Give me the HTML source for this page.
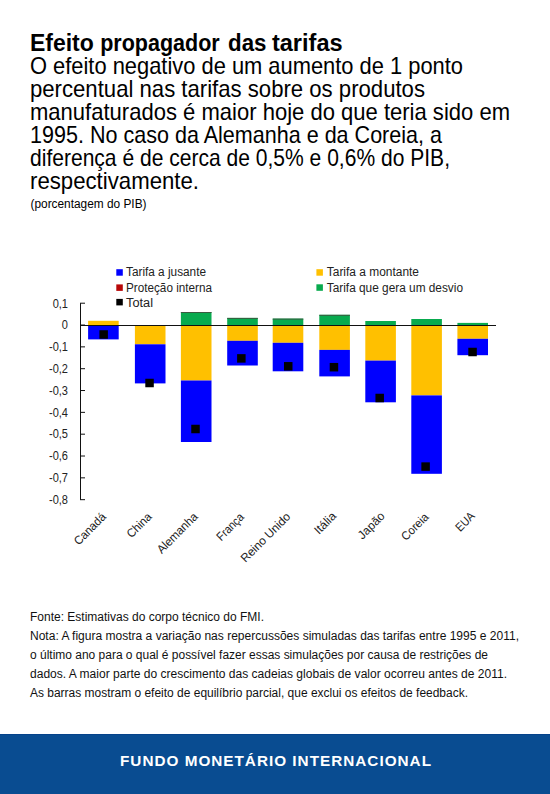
<!DOCTYPE html><html><head><meta charset="utf-8"><style>html,body{margin:0;padding:0;background:#fff;width:550px;height:794px;overflow:hidden}svg{display:block}text{font-family:"Liberation Sans", sans-serif}</style></head><body>
<svg width="550" height="794" viewBox="0 0 550 794">
<rect x="0" y="0" width="550" height="794" fill="#fff"/>
<rect x="88.10" y="320.80" width="30.60" height="4.20" fill="#ffc000"/>
<rect x="88.10" y="326.00" width="30.60" height="13.40" fill="#0000ff"/>
<rect x="99.40" y="330.25" width="8.50" height="8.50" fill="#000"/>
<rect x="134.90" y="326.00" width="30.60" height="18.30" fill="#ffc000"/>
<rect x="134.90" y="344.30" width="30.60" height="39.10" fill="#0000ff"/>
<rect x="145.30" y="378.75" width="8.50" height="8.50" fill="#000"/>
<rect x="180.90" y="312.00" width="30.60" height="13.00" fill="#08aa4e"/>
<rect x="180.90" y="312.00" width="30.60" height="1.00" fill="#3a5a40"/>
<rect x="180.90" y="326.00" width="30.60" height="54.50" fill="#ffc000"/>
<rect x="180.90" y="380.50" width="30.60" height="61.50" fill="#0000ff"/>
<rect x="191.25" y="424.75" width="8.50" height="8.50" fill="#000"/>
<rect x="227.20" y="317.90" width="30.60" height="7.10" fill="#08aa4e"/>
<rect x="227.20" y="317.90" width="30.60" height="1.00" fill="#3a5a40"/>
<rect x="227.20" y="326.00" width="30.60" height="14.80" fill="#ffc000"/>
<rect x="227.20" y="340.80" width="30.60" height="24.70" fill="#0000ff"/>
<rect x="237.10" y="354.15" width="8.50" height="8.50" fill="#000"/>
<rect x="272.70" y="318.60" width="30.60" height="6.40" fill="#08aa4e"/>
<rect x="272.70" y="318.60" width="30.60" height="1.00" fill="#3a5a40"/>
<rect x="272.70" y="326.00" width="30.60" height="16.80" fill="#ffc000"/>
<rect x="272.70" y="342.80" width="30.60" height="28.50" fill="#0000ff"/>
<rect x="284.00" y="362.05" width="8.50" height="8.50" fill="#000"/>
<rect x="319.30" y="314.80" width="30.60" height="10.20" fill="#08aa4e"/>
<rect x="319.30" y="314.80" width="30.60" height="1.00" fill="#3a5a40"/>
<rect x="319.30" y="326.00" width="30.60" height="23.90" fill="#ffc000"/>
<rect x="319.30" y="349.90" width="30.60" height="26.50" fill="#0000ff"/>
<rect x="329.70" y="362.95" width="8.50" height="8.50" fill="#000"/>
<rect x="365.30" y="321.00" width="30.60" height="4.00" fill="#08aa4e"/>
<rect x="365.30" y="326.00" width="30.60" height="34.60" fill="#ffc000"/>
<rect x="365.30" y="360.60" width="30.60" height="41.70" fill="#0000ff"/>
<rect x="375.45" y="393.75" width="8.50" height="8.50" fill="#000"/>
<rect x="411.30" y="319.00" width="30.60" height="6.00" fill="#08aa4e"/>
<rect x="411.30" y="326.00" width="30.60" height="69.40" fill="#ffc000"/>
<rect x="411.30" y="395.40" width="30.60" height="78.40" fill="#0000ff"/>
<rect x="421.35" y="462.35" width="8.50" height="8.50" fill="#000"/>
<rect x="457.40" y="322.90" width="30.60" height="2.10" fill="#08aa4e"/>
<rect x="457.40" y="326.00" width="30.60" height="12.80" fill="#ffc000"/>
<rect x="457.40" y="338.80" width="30.60" height="16.40" fill="#0000ff"/>
<rect x="468.30" y="347.75" width="8.50" height="8.50" fill="#000"/>
<rect x="80.00" y="325.00" width="416.00" height="1.00" fill="#111"/>
<rect x="80.00" y="303.20" width="1.00" height="196.60" fill="#111"/>
<rect x="80.00" y="302.70" width="5.00" height="1.00" fill="#111"/>
<rect x="80.00" y="324.53" width="5.00" height="1.00" fill="#111"/>
<rect x="80.00" y="346.36" width="5.00" height="1.00" fill="#111"/>
<rect x="80.00" y="368.19" width="5.00" height="1.00" fill="#111"/>
<rect x="80.00" y="390.02" width="5.00" height="1.00" fill="#111"/>
<rect x="80.00" y="411.85" width="5.00" height="1.00" fill="#111"/>
<rect x="80.00" y="433.68" width="5.00" height="1.00" fill="#111"/>
<rect x="80.00" y="455.51" width="5.00" height="1.00" fill="#111"/>
<rect x="80.00" y="477.34" width="5.00" height="1.00" fill="#111"/>
<rect x="80.00" y="499.17" width="5.00" height="1.00" fill="#111"/>
<rect x="116.30" y="269.20" width="6.50" height="6.50" fill="#0000ff"/>
<rect x="116.30" y="284.40" width="6.50" height="6.50" fill="#b80808"/>
<rect x="116.30" y="298.90" width="6.50" height="6.50" fill="#000"/>
<rect x="316.40" y="269.20" width="6.50" height="6.50" fill="#ffc000"/>
<rect x="316.40" y="284.30" width="6.50" height="6.50" fill="#08aa4e"/>
<text x="29.9" y="50.7" font-size="23.3" fill="#000" font-weight="700" textLength="63.9" lengthAdjust="spacingAndGlyphs">Efeito</text>
<text x="100.2" y="50.7" font-size="23.3" fill="#000" font-weight="700" textLength="119.5" lengthAdjust="spacingAndGlyphs">propagador</text>
<text x="228.1" y="50.7" font-size="23.3" fill="#000" font-weight="700" textLength="38.4" lengthAdjust="spacingAndGlyphs">das</text>
<text x="271.9" y="50.7" font-size="23.3" fill="#000" font-weight="700" textLength="70.7" lengthAdjust="spacingAndGlyphs">tarifas</text>
<text x="30" y="73.9" font-size="23.6" fill="#000" textLength="433" lengthAdjust="spacingAndGlyphs">O efeito negativo de um aumento de 1 ponto</text>
<text x="30" y="96.9" font-size="23.6" fill="#000" textLength="395" lengthAdjust="spacingAndGlyphs">percentual nas tarifas sobre os produtos</text>
<text x="30" y="119.9" font-size="23.6" fill="#000" textLength="480" lengthAdjust="spacingAndGlyphs">manufaturados é maior hoje do que teria sido em</text>
<text x="30" y="142.9" font-size="23.6" fill="#000" textLength="412" lengthAdjust="spacingAndGlyphs">1995. No caso da Alemanha e da Coreia, a</text>
<text x="30" y="165.9" font-size="23.6" fill="#000" textLength="420" lengthAdjust="spacingAndGlyphs">diferença é de cerca de 0,5% e 0,6% do PIB,</text>
<text x="30" y="188.9" font-size="23.6" fill="#000" textLength="169" lengthAdjust="spacingAndGlyphs">respectivamente.</text>
<text x="30.5" y="207.7" font-size="12" fill="#000" textLength="116" lengthAdjust="spacingAndGlyphs">(porcentagem do PIB)</text>
<text x="30" y="620.7" font-size="12" fill="#111" textLength="234" lengthAdjust="spacingAndGlyphs">Fonte: Estimativas do corpo técnico do FMI.</text>
<text x="30" y="640" font-size="12" fill="#111" textLength="489" lengthAdjust="spacingAndGlyphs">Nota: A figura mostra a variação nas repercussões simuladas das tarifas entre 1995 e 2011,</text>
<text x="30" y="659" font-size="12" fill="#111" textLength="458" lengthAdjust="spacingAndGlyphs">o último ano para o qual é possível fazer essas simulações por causa de restrições de</text>
<text x="30" y="678" font-size="12" fill="#111" textLength="477" lengthAdjust="spacingAndGlyphs">dados. A maior parte do crescimento das cadeias globais de valor ocorreu antes de 2011.</text>
<text x="30" y="697" font-size="12" fill="#111" textLength="438" lengthAdjust="spacingAndGlyphs">As barras mostram o efeito de equilíbrio parcial, que exclui os efeitos de feedback.</text>
<text x="126" y="275.8" font-size="12" fill="#222" textLength="80" lengthAdjust="spacingAndGlyphs">Tarifa a jusante</text>
<text x="126" y="291.9" font-size="12" fill="#222" textLength="86" lengthAdjust="spacingAndGlyphs">Proteção interna</text>
<text x="126" y="306.8" font-size="12" fill="#222" textLength="27" lengthAdjust="spacingAndGlyphs">Total</text>
<text x="326.8" y="275.8" font-size="12" fill="#222" textLength="92.2" lengthAdjust="spacingAndGlyphs">Tarifa a montante</text>
<text x="326.8" y="291.9" font-size="12" fill="#222" textLength="136.2" lengthAdjust="spacingAndGlyphs">Tarifa que gera um desvio</text>
<text x="68" y="307.5" font-size="12" fill="#222" textLength="15.34" lengthAdjust="spacingAndGlyphs" text-anchor="end">0,1</text>
<text x="68" y="329.33" font-size="12" fill="#222" textLength="6.14" lengthAdjust="spacingAndGlyphs" text-anchor="end">0</text>
<text x="68" y="351.16" font-size="12" fill="#222" textLength="19.02" lengthAdjust="spacingAndGlyphs" text-anchor="end">-0,1</text>
<text x="68" y="372.99" font-size="12" fill="#222" textLength="19.02" lengthAdjust="spacingAndGlyphs" text-anchor="end">-0,2</text>
<text x="68" y="394.82" font-size="12" fill="#222" textLength="19.02" lengthAdjust="spacingAndGlyphs" text-anchor="end">-0,3</text>
<text x="68" y="416.65" font-size="12" fill="#222" textLength="19.02" lengthAdjust="spacingAndGlyphs" text-anchor="end">-0,4</text>
<text x="68" y="438.47999999999996" font-size="12" fill="#222" textLength="19.02" lengthAdjust="spacingAndGlyphs" text-anchor="end">-0,5</text>
<text x="68" y="460.31" font-size="12" fill="#222" textLength="19.02" lengthAdjust="spacingAndGlyphs" text-anchor="end">-0,6</text>
<text x="68" y="482.14" font-size="12" fill="#222" textLength="19.02" lengthAdjust="spacingAndGlyphs" text-anchor="end">-0,7</text>
<text x="68" y="503.96999999999997" font-size="12" fill="#222" textLength="19.02" lengthAdjust="spacingAndGlyphs" text-anchor="end">-0,8</text>
<text x="0" y="0" font-size="12" fill="#222" textLength="39.7" lengthAdjust="spacingAndGlyphs" text-anchor="end" transform="translate(106.7,517.6) rotate(-45)">Canadá</text>
<text x="0" y="0" font-size="12" fill="#222" textLength="29.7" lengthAdjust="spacingAndGlyphs" text-anchor="end" transform="translate(152.5,517.5) rotate(-45)">China</text>
<text x="0" y="0" font-size="12" fill="#222" textLength="52.1" lengthAdjust="spacingAndGlyphs" text-anchor="end" transform="translate(198.5,517.4) rotate(-45)">Alemanha</text>
<text x="0" y="0" font-size="12" fill="#222" textLength="33.3" lengthAdjust="spacingAndGlyphs" text-anchor="end" transform="translate(244.8,517.9) rotate(-45)">França</text>
<text x="0" y="0" font-size="12" fill="#222" textLength="64.5" lengthAdjust="spacingAndGlyphs" text-anchor="end" transform="translate(291.1,517.5) rotate(-45)">Reino Unido</text>
<text x="0" y="0" font-size="12" fill="#222" textLength="25.6" lengthAdjust="spacingAndGlyphs" text-anchor="end" transform="translate(337,516.8) rotate(-45)">Itália</text>
<text x="0" y="0" font-size="12" fill="#222" textLength="32.8" lengthAdjust="spacingAndGlyphs" text-anchor="end" transform="translate(385.6,516.8) rotate(-45)">Japão</text>
<text x="0" y="0" font-size="12" fill="#222" textLength="32.9" lengthAdjust="spacingAndGlyphs" text-anchor="end" transform="translate(429.3,517.9) rotate(-45)">Coreia</text>
<text x="0" y="0" font-size="12" fill="#222" textLength="21.7" lengthAdjust="spacingAndGlyphs" text-anchor="end" transform="translate(475.6,516.8) rotate(-45)">EUA</text>
<rect x="0" y="734" width="550" height="60" fill="#094c91"/><rect x="0" y="734" width="550" height="1" fill="#05428a"/>
<text x="120" y="766.4" font-size="15.3" font-weight="700" fill="#fff" textLength="311" lengthAdjust="spacing">FUNDO MONETÁRIO INTERNACIONAL</text>
</svg></body></html>
